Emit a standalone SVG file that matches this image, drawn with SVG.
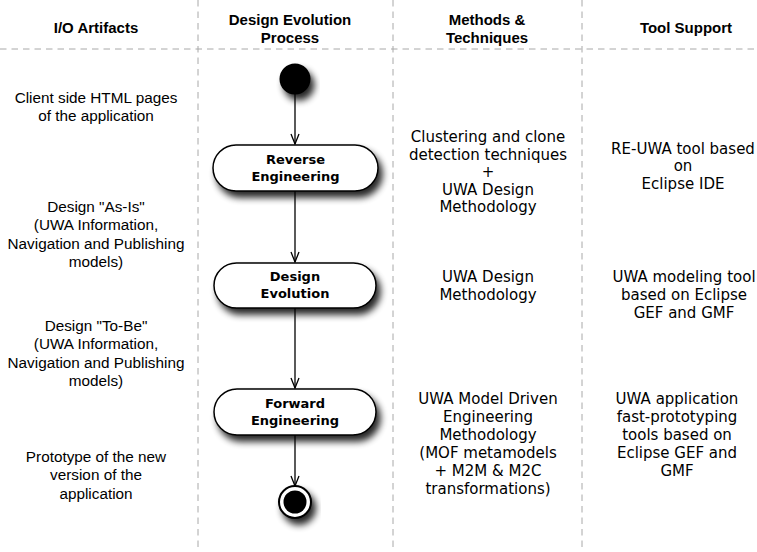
<svg xmlns="http://www.w3.org/2000/svg" width="757" height="552" viewBox="0 0 757 552">
<defs>
<style>
.lane{stroke:#a8a8a8;stroke-width:1;stroke-dasharray:6.5 5;fill:none}
.hdr{font-family:"Liberation Sans",Arial,sans-serif;font-weight:bold;font-size:15px;fill:#000;text-anchor:middle}
.io{font-family:"Liberation Sans",Arial,sans-serif;font-size:15.3px;fill:#000;text-anchor:middle}
.mt{font-family:"DejaVu Sans",Verdana,sans-serif;font-size:15px;fill:#000;text-anchor:middle}
.nl{font-family:"DejaVu Sans",Verdana,sans-serif;font-weight:bold;font-size:13px;fill:#000;text-anchor:middle}
.node{fill:#fff;stroke:#000;stroke-width:1.5}
.edge{stroke:#000;stroke-width:1.3;fill:none}
</style>
<filter id="sh" x="-30%" y="-40%" width="160%" height="190%">
<feGaussianBlur in="SourceAlpha" stdDeviation="3.5"/>
<feOffset dx="4" dy="6" result="b"/>
<feComponentTransfer><feFuncA type="linear" slope="0.85"/></feComponentTransfer>
<feMerge><feMergeNode/><feMergeNode in="SourceGraphic"/></feMerge>
</filter>
<marker id="arr" viewBox="0 0 12 12" refX="11" refY="6" markerWidth="12" markerHeight="12" markerUnits="userSpaceOnUse" orient="auto">
<path d="M1,2 L11,6 L1,10" fill="none" stroke="#000" stroke-width="1.3"/>
</marker>
</defs>
<rect width="757" height="552" fill="#fff"/>
<g id="lanes">
<line class="lane" x1="0" y1="49" x2="757" y2="49"/>
<line class="lane" x1="198" y1="0" x2="198" y2="552"/>
<line class="lane" x1="393" y1="0" x2="393" y2="552"/>
<line class="lane" x1="582" y1="0" x2="582" y2="552"/>
</g>
<g id="headers">
<text class="hdr" x="96" y="33">I/O Artifacts</text>
<text class="hdr" x="290" y="25">Design Evolution</text>
<text class="hdr" x="290" y="43">Process</text>
<text class="hdr" x="487" y="25">Methods &amp;</text>
<text class="hdr" x="487" y="43">Techniques</text>
<text class="hdr" x="686" y="33">Tool Support</text>
</g>
<g id="io-artifacts">
<text class="io" x="96" y="103">Client side HTML pages</text>
<text class="io" x="96" y="121">of the application</text>
<text class="io" x="96" y="212">Design "As-Is"</text>
<text class="io" x="96" y="230">(UWA Information,</text>
<text class="io" x="96" y="249">Navigation and Publishing</text>
<text class="io" x="96" y="267">models)</text>
<text class="io" x="96" y="331">Design "To-Be"</text>
<text class="io" x="96" y="349">(UWA Information,</text>
<text class="io" x="96" y="368">Navigation and Publishing</text>
<text class="io" x="96" y="386">models)</text>
<text class="io" x="96" y="462">Prototype of the new</text>
<text class="io" x="96" y="480">version of the</text>
<text class="io" x="96" y="499">application</text>
</g>
<g id="connectors">
<line class="edge" x1="295" y1="94" x2="295" y2="144" marker-end="url(#arr)"/>
<line class="edge" x1="295" y1="191" x2="295" y2="262" marker-end="url(#arr)"/>
<line class="edge" x1="295" y1="308" x2="295" y2="388" marker-end="url(#arr)"/>
<line class="edge" x1="295" y1="435" x2="295" y2="486" marker-end="url(#arr)"/>
</g>
<g id="start">
<circle cx="295" cy="79" r="15.5" fill="#000" filter="url(#sh)"/>
</g>
<g id="reverse-engineering">
<rect class="node" x="213" y="145" width="165" height="46" rx="23" filter="url(#sh)"/>
<text class="nl" x="295.5" y="164">Reverse</text>
<text class="nl" x="295.5" y="181">Engineering</text>
</g>
<g id="design-evolution">
<rect class="node" x="214" y="263" width="162" height="45" rx="22.5" filter="url(#sh)"/>
<text class="nl" x="295" y="281">Design</text>
<text class="nl" x="295" y="298">Evolution</text>
</g>
<g id="forward-engineering">
<rect class="node" x="214" y="389" width="162" height="46" rx="23" filter="url(#sh)"/>
<text class="nl" x="295" y="408">Forward</text>
<text class="nl" x="295" y="425">Engineering</text>
</g>
<g id="end">
<circle cx="295" cy="502" r="16" fill="#fff" stroke="#000" stroke-width="2" filter="url(#sh)"/>
<circle cx="295" cy="502" r="11.5" fill="#000"/>
</g>
<g id="methods">
<text class="mt" x="488" y="142">Clustering and clone</text>
<text class="mt" x="488" y="159.5">detection techniques</text>
<text class="mt" x="488" y="177">+</text>
<text class="mt" x="488" y="194.5">UWA Design</text>
<text class="mt" x="488" y="212">Methodology</text>
<text class="mt" x="488" y="282">UWA Design</text>
<text class="mt" x="488" y="300">Methodology</text>
<text class="mt" x="488" y="404">UWA Model Driven</text>
<text class="mt" x="488" y="422">Engineering</text>
<text class="mt" x="488" y="440">Methodology</text>
<text class="mt" x="488" y="458">(MOF metamodels</text>
<text class="mt" x="488" y="476">+ M2M &amp; M2C</text>
<text class="mt" x="488" y="494">transformations)</text>
</g>
<g id="tools">
<text class="mt" x="683" y="154">RE-UWA tool based</text>
<text class="mt" x="683" y="171">on</text>
<text class="mt" x="683" y="189">Eclipse IDE</text>
<text class="mt" x="684" y="282">UWA modeling tool</text>
<text class="mt" x="684" y="300">based on Eclipse</text>
<text class="mt" x="684" y="318">GEF and GMF</text>
<text class="mt" x="677" y="404">UWA application</text>
<text class="mt" x="677" y="422">fast-prototyping</text>
<text class="mt" x="677" y="440">tools based on</text>
<text class="mt" x="677" y="458">Eclipse GEF and</text>
<text class="mt" x="677" y="476">GMF</text>
</g>
</svg>
